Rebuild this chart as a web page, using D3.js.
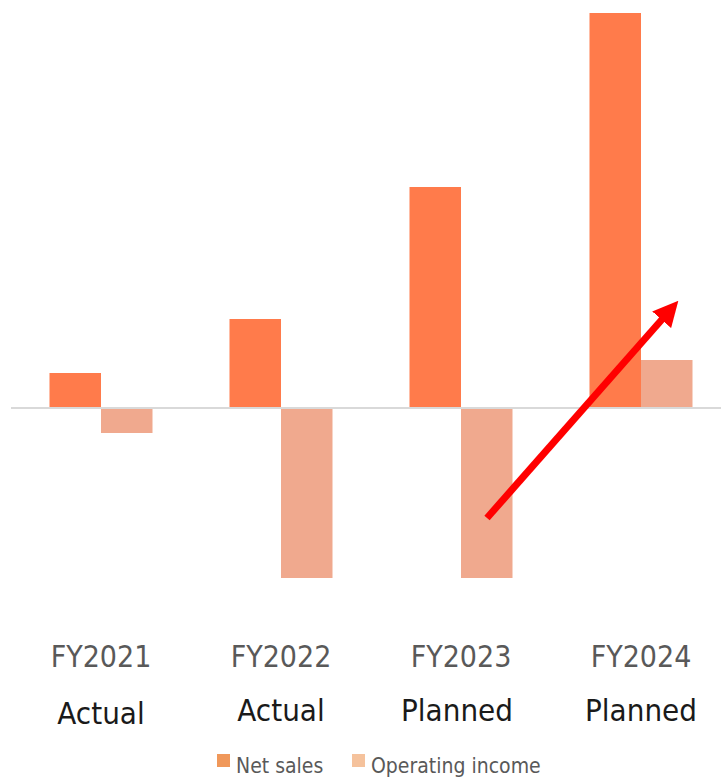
<!DOCTYPE html>
<html>
<head>
<meta charset="utf-8">
<script src="https://cdn.jsdelivr.net/npm/d3@7"></script>
<style>
  html, body { margin: 0; padding: 0; background: #fff; }
  svg { display: block; }
</style>
</head>
<body>
<div id="chart"></div>
<script>
// chart data (arbitrary units)
var years = ["FY2021", "FY2022", "FY2023", "FY2024"];
var stages = ["Actual", "Actual", "Planned", "Planned"];
var netSales = [35, 89, 221, 395];
var operatingIncome = [-25, -170, -170, 48];
var seriesNames = ["Net sales", "Operating income"];

var W = 721, H = 781;
var barColors = ["#ff7b4b", "#f0a98e"];
var legendColors = ["#f0985a", "#f5c29c"];

var svg = d3.select("#chart").append("svg")
    .attr("width", W)
    .attr("height", H);

var x = d3.scaleBand().domain(years).range([11, 731]).paddingInner(0).paddingOuter(0);
var inner = d3.scaleBand().domain([0, 1]).range([0, 103]);
var groupOffset = (x.bandwidth() - inner.range()[1]) / 2;
var y = d3.scaleLinear().domain([-200, 400]).range([608, 8]);

var rows = years.map(function (yr, i) {
    return { year: yr, values: [netSales[i], operatingIncome[i]] };
});

var g = svg.append("g");
var groups = g.selectAll("g.grp").data(rows).enter().append("g")
    .attr("class", "grp")
    .attr("transform", function (d) { return "translate(" + (x(d.year) + groupOffset) + ",0)"; });

groups.selectAll("rect").data(function (d) { return d.values; }).enter().append("rect")
    .attr("x", function (d, j) { return inner(j); })
    .attr("width", inner.bandwidth())
    .attr("y", function (d) { return d >= 0 ? y(d) : y(0); })
    .attr("height", function (d) { return Math.abs(y(d) - y(0)); })
    .attr("fill", function (d, j) { return barColors[j]; });

// zero line
svg.append("line")
    .attr("x1", 11).attr("x2", W)
    .attr("y1", y(0)).attr("y2", y(0))
    .attr("stroke", "#d9d9d9")
    .attr("stroke-width", 2);

// category labels
var labels = svg.append("g");
labels.selectAll("text.yr").data(years).enter().append("text")
    .attr("class", "yr")
    .attr("x", function (d) { return x(d) + x.bandwidth() / 2; })
    .attr("y", 667)
    .attr("text-anchor", "middle")
    .attr("font-family", "DejaVu Sans Condensed, DejaVu Sans, sans-serif")
    .attr("font-size", 30)
    .attr("fill", "#595959")
    .text(function (d) { return d; });

labels.selectAll("text.st").data(stages).enter().append("text")
    .attr("class", "st")
    .attr("x", function (d, i) { return x(years[i]) + x.bandwidth() / 2 - (i === 2 ? 4 : 0); })
    .attr("y", function (d, i) { return i === 0 ? 724 : 721; })
    .attr("text-anchor", "middle")
    .attr("font-family", "DejaVu Sans Condensed, DejaVu Sans, sans-serif")
    .attr("font-size", 31)
    .attr("fill", "#1a1a1a")
    .text(function (d) { return d; });

// legend
var legend = svg.append("g").attr("transform", "translate(217,753)");
var lx = [0, 135];
seriesNames.forEach(function (name, i) {
    legend.append("rect")
        .attr("x", lx[i]).attr("y", 1)
        .attr("width", 13).attr("height", 13)
        .attr("fill", legendColors[i]);
    legend.append("text")
        .attr("x", lx[i] + 19).attr("y", 20)
        .attr("font-family", "DejaVu Sans Condensed, DejaVu Sans, sans-serif")
        .attr("font-size", 21)
        .attr("fill", "#595959")
        .text(name);
});

// trend arrow (annotation)
var defs = svg.append("defs");
defs.append("marker")
    .attr("id", "head")
    .attr("viewBox", "0 0 10 10")
    .attr("refX", 2).attr("refY", 5)
    .attr("markerWidth", 3.6).attr("markerHeight", 3.6)
    .attr("orient", "auto")
    .append("path")
    .attr("d", "M0,0 L10,5 L0,10 Z")
    .attr("fill", "#ff0000");

svg.append("line")
    .attr("x1", 487).attr("y1", 518)
    .attr("x2", 665).attr("y2", 316)
    .attr("stroke", "#ff0000")
    .attr("stroke-width", 7)
    .attr("marker-end", "url(#head)");
</script>
</body>
</html>
